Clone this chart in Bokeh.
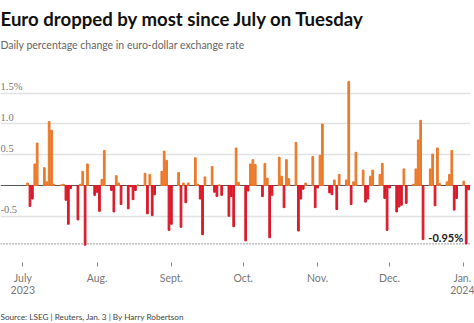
import pandas as pd
from bokeh.plotting import figure
from bokeh.layouts import column
from bokeh.models import (ColumnDataSource, Span, Label, LabelSet, FixedTicker, Grid)
from bokeh.embed import file_html
from bokeh.resources import INLINE

# ---- data (daily % change in EUR/USD) ----
jul = [0.04, -0.34, -0.22, 0.35, 0.69, 0.29, 0.06, 1.04, 0.90, 0.02,
       0.01, 0.02, -0.24, -0.63, -0.05, -0.56, 0.02, 0.23, -0.97, 0.35, -0.16]
aug = [-0.11, -0.42, 0.10, 0.57, -0.08, -0.43, 0.16, 0.04, -0.31, -0.38,
       -0.02, -0.23, -0.08, 0.01, 0.20, -0.46, 0.18, -0.49, -0.15, 0.23,
       0.56, 0.41, -0.73]
sep = [-0.63, 0.21, -0.68, 0.04, -0.28, 0.04, 0.45, 0.02, -0.22, -0.80,
       0.14, 0.31, -0.11, -0.18, 0.01, -0.16, -0.50, -0.18, -0.67, 0.61, 0.05]
oct_ = [-0.90, -0.09, 0.35, 0.42, 0.34, -0.18, 0.36, 0.12, -0.85, -0.16,
        0.46, 0.15, -0.36, 0.42, 0.11, 0.70, -0.74, -0.22, -0.06, 0.04,
        0.47, -0.36]
nov = [-0.04, 0.49, 1.00, -0.12, -0.15, 0.09, -0.39, 0.18, 0.09, 1.69,
       -0.31, 0.06, 0.54, 0.25, -0.27, -0.22, 0.15, 0.25, 0.18, 0.36,
       -0.21, -0.73]
dec = [-0.04, -0.43, -0.35, -0.32, 0.27, -0.29, 0.02, 0.27, 0.74, 1.06,
       -0.88, 0.27, 0.51, -0.33, 0.61, 0.03, 0.06, 0.18, 0.57, -0.40, -0.21]
jan = [0.07, -0.95, -0.07]

values = jul + aug + sep + oct_ + nov + dec + jan
dates = pd.bdate_range("2023-07-03", "2024-01-03")
assert len(dates) == len(values)

month_ticks = ["2023-07-01", "2023-08-01", "2023-09-01", "2023-10-01",
               "2023-11-01", "2023-12-01", "2024-01-01"]
month_labels = ["July\n2023", "Aug.", "Sept.", "Oct.", "Nov.", "Dec.", "Jan.\n2024"]
y_ticks = [1.5, 1.0, 0.5, -0.5]
y_tick_labels = ["1.5%", "1.0", "0.5", "-0.5"]
low_value = -0.95
low_label = "-0.95%"

title_text = "Euro dropped by most since July on Tuesday"
subtitle_text = "Daily percentage change in euro-dollar exchange rate"
source_text = "Source: LSEG | Reuters, Jan. 3 | By Harry Robertson"

# ---- styles ----
POS = "#EA7A2C"
NEG = "#D91A2A"
FONT = "Lato"

colors = [POS if v >= 0 else NEG for v in values]
src = ColumnDataSource(dict(date=dates, value=values, color=colors))

day = pd.Timedelta(days=1)
x_start = pd.Timestamp("2023-07-01") - 9.3 * day
x_end = pd.Timestamp("2023-07-01") + 186.8 * day

# main figure: frame spans canvas rows 0..262, title block lives inside it
p = figure(width=474, height=303, x_axis_type="datetime", title=None,
           x_range=(x_start, x_end), y_range=(-1.252, 3.008),
           y_axis_location=None, output_backend="svg", toolbar_location=None,
           min_border_left=0, min_border_right=4, min_border_top=0,
           min_border_bottom=41)
p.outline_line_color = None
p.background_fill_color = "white"
p.border_fill_color = "white"
p.xgrid.visible = False
p.ygrid.visible = False

p.add_layout(Grid(dimension=1, ticker=FixedTicker(ticks=y_ticks),
                  grid_line_color="#e2e2e2", grid_line_width=1.5))
p.add_layout(Span(location=0, dimension="width", line_color="#555555",
                  line_width=1, level="underlay"))
p.add_layout(Span(location=low_value, dimension="width", line_color="#666666",
                  line_width=1.2, line_dash="1 2", level="underlay"))

p.vbar(x="date", top="value", bottom=0, width=0.72 * 86400000,
       color="color", source=src)

# x axis
ms = [int(pd.Timestamp(t).value // 10**6) for t in month_ticks]
ax = p.xaxis[0]
ax.ticker = FixedTicker(ticks=ms)
ax.major_label_overrides = {k: lab for k, lab in zip(ms, month_labels)}
ax.axis_line_color = None
ax.major_tick_in = 0
ax.major_tick_out = 4
ax.major_tick_line_color = "#888888"
ax.minor_tick_line_color = None
ax.major_label_standoff = 5
ax.major_label_text_font = FONT
ax.major_label_text_font_size = "10.5px"
ax.major_label_text_color = "#777777"
ax.major_label_text_line_height = 1.0

# y labels inside plot
ysrc = ColumnDataSource(dict(y=y_ticks, t=y_tick_labels))
p.add_layout(LabelSet(x=0, y="y", text="t", x_units="screen", source=ysrc,
                      y_offset=3, text_font=FONT, text_font_size="10.5px",
                      text_color="#777777", text_baseline="alphabetic"))

p.add_layout(Label(x=dates[-2], y=low_value, text=low_label, x_offset=-3,
                   y_offset=6, text_align="right", text_baseline="alphabetic",
                   text_font=FONT, text_font_size="11px", text_font_style="bold",
                   text_color="#222222"))

# title + subtitle (screen units measured from the frame's bottom edge)
p.add_layout(Label(x=0, y=244, x_units="screen", y_units="screen",
                   text=title_text, text_font=FONT, text_font_size="18.6px",
                   text_font_style="bold", text_color="#111111",
                   text_baseline="alphabetic"))
p.add_layout(Label(x=0, y=217.3, x_units="screen", y_units="screen",
                   text=subtitle_text, text_font=FONT, text_font_size="10.5px",
                   text_color="#666666", text_baseline="alphabetic"))

# footer with the source line
f = figure(width=474, height=20, title=None, x_axis_location=None,
           y_axis_location=None, output_backend="svg", toolbar_location=None,
           min_border=0)
f.outline_line_color = None
f.xgrid.visible = False
f.ygrid.visible = False
f.add_layout(Label(x=0, y=6.2, x_units="screen", y_units="screen",
                   text=source_text, text_font=FONT, text_font_size="8.2px",
                   text_color="#444444", text_baseline="alphabetic"))

layout = column(p, f, spacing=0)
open("out.html", "w").write(file_html(layout, INLINE))
